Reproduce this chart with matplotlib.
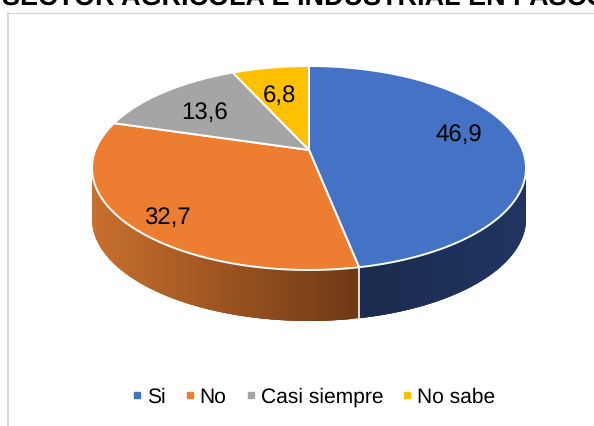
import numpy as np
import matplotlib
matplotlib.use("Agg")
import matplotlib.pyplot as plt
from matplotlib.lines import Line2D
from matplotlib.collections import PolyCollection
from matplotlib.colors import to_rgb

plt.rcParams['font.family'] = ['Liberation Sans', 'DejaVu Sans']
plt.rcParams['text.hinting'] = 'no_hinting'
plt.rcParams['text.hinting_factor'] = 1

title = "SECTOR AGRÍCOLA E INDUSTRIAL EN PASCO"
categories = ["Si", "No", "Casi siempre", "No sabe"]
values = [46.9, 32.7, 13.6, 6.8]
labels = ["46,9", "32,7", "13,6", "6,8"]
colors = ["#4472C4", "#ED7D31", "#A5A5A5", "#FFC000"]
wall_light = {"Si": "#1B2B4E", "No": "#C96F2E"}
wall_dark = {"Si": "#1F3560", "No": "#6E3915"}
label_xy = [(459, 135), (167, 218), (205, 113), (279, 96)]

CX, CY, A, B, K, DEPTH = 309.0, 150.0, 213.6, 98.8, 0.1765, 51.0


def project(theta, r=1.0, drop=0.0):
    """Clockwise angle from 12 o'clock on a tilted disk -> pixel position."""
    x = r * np.sin(theta)
    y = r * np.cos(theta)
    d = 1 + K * y
    return CX + A * x / d, CY - B * y / d + drop


fig = plt.figure(figsize=(5.94, 4.26), dpi=100, facecolor="white")
ax = fig.add_axes([0, 0, 1, 1])
ax.set_xlim(0, 594)
ax.set_ylim(426, 0)
ax.axis("off")

ax.add_line(Line2D([8, 8], [426, 12.5], color="#D9D9D9", lw=1.5, zorder=1))
ax.add_line(Line2D([8, 594], [12.5, 12.5], color="#D9D9D9", lw=1.0, zorder=1))

edges = np.radians(np.concatenate([[0], np.cumsum(values)]) * 360 / sum(values))

# walls
lo, hi = np.radians(96), np.radians(266)
for i, name in enumerate(categories):
    if name not in wall_light:
        continue
    a, b = max(edges[i], lo), min(edges[i + 1], hi)
    t = np.linspace(a, b, 90)
    x0, y0 = project(t)
    x1, y1 = project(t, drop=DEPTH)
    c0, c1 = np.array(to_rgb(wall_light[name])), np.array(to_rgb(wall_dark[name]))
    xa, xb = x0.min(), x0.max()
    polys, cols = [], []
    for j in range(len(t) - 1):
        k = min(j + 3, len(t) - 1)
        polys.append([(x0[j], y0[j]), (x0[k], y0[k]), (x1[k], y1[k]), (x1[j], y1[j])])
        f = (0.5 * (x0[j] + x0[j + 1]) - xa) / (xb - xa)
        cols.append(c0 + (c1 - c0) * f)
    ax.add_collection(PolyCollection(polys, facecolors=cols, edgecolors="none", zorder=2))

# divider on the wall
xd, yd = project(edges[1])
ax.add_line(Line2D([xd, xd], [yd, yd + DEPTH], color="white", lw=1.2, zorder=3))

# top of the pie
for i, col in enumerate(colors):
    t = np.linspace(edges[i], edges[i + 1], 160)
    xs, ys = project(t)
    ax.fill(np.r_[CX, xs], np.r_[CY, ys], facecolor=col, edgecolor="white", lw=1.4,
            joinstyle="round", zorder=4)

for txt, (lx, ly) in zip(labels, label_xy):
    ax.text(lx, ly, txt, fontsize=17, color="black", ha="center", va="center", zorder=5)

handles = [Line2D([], [], ls="", marker="s", ms=3.7, mfc=c, mec=c, label=n)
           for n, c in zip(categories, colors)]
ax.legend(handles=handles, ncol=4, loc="center", bbox_to_anchor=(314.5 / 594, 1 - 397 / 426),
          frameon=False, fontsize=15.35, handlelength=0.3, handletextpad=0.32,
          columnspacing=0.98, borderpad=0, labelspacing=0, markerscale=1)

fig.text(2 / 594, 1 - 6 / 426, title, fontsize=19.3, fontweight="bold", color="black",
         ha="left", va="baseline")

fig.savefig("out.png", dpi=100)
